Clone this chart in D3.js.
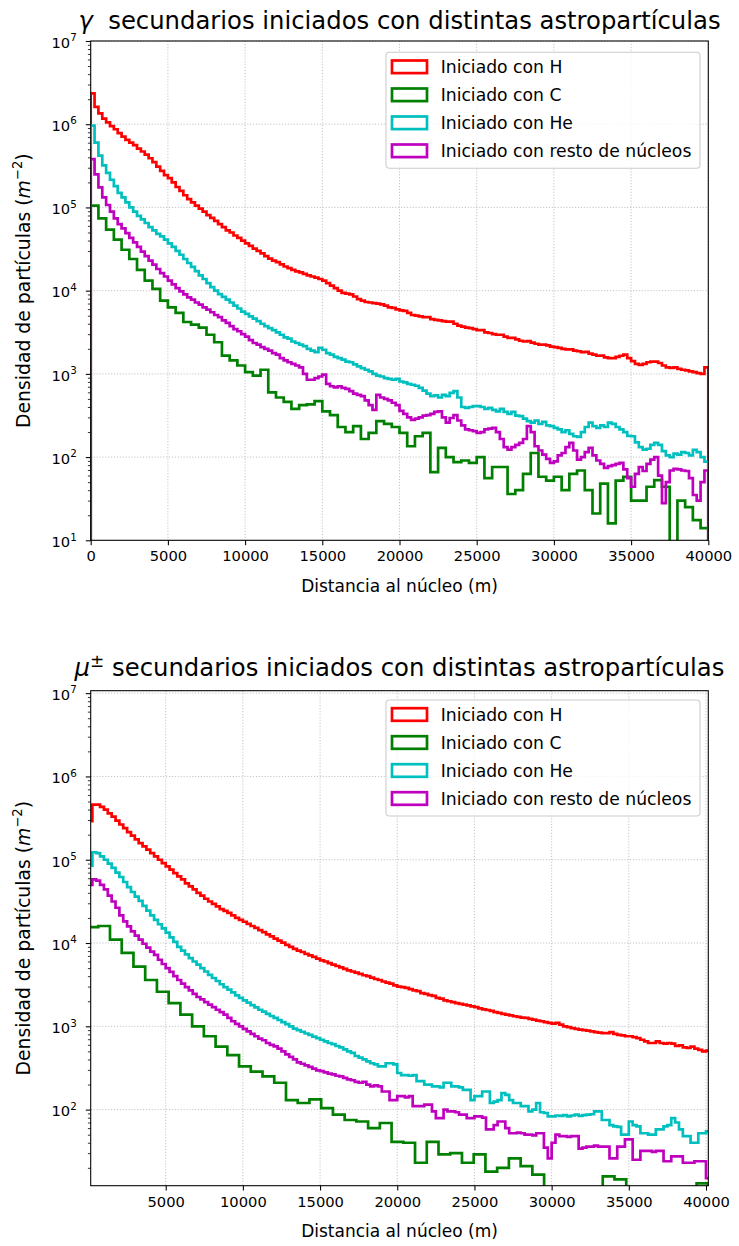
<!DOCTYPE html>
<html>
<head>
<meta charset="utf-8">
<script src="https://cdn.jsdelivr.net/npm/d3@7"></script>
<style>
  html, body { margin: 0; padding: 0; background: #ffffff; }
  svg text { font-family: "DejaVu Sans", sans-serif; fill: #000; }
</style>
</head>
<body>
<svg id="chart" width="739" height="1246"></svg>
<script>
// ---- legend categories and colours ----
const seriesLabels = ["Iniciado con H", "Iniciado con C", "Iniciado con He", "Iniciado con resto de núcleos"];
const seriesColors = ["#ff0000", "#008000", "#00bfbf", "#bf00bf"];

// ---- γ panel: particle density per radial bin (m^-2) ----
const gammaH = [
  2.35e6,1.62e6,1.35e6,1.17e6,1.05e6,9.5e5,8.7e5,7.8e5,7.1e5,6.5e5,
  6.0e5,5.6e5,5.1e5,4.7e5,4.3e5,3.9e5,3.5e5,3.1e5,2.75e5,2.45e5,
  2.25e5,2.0e5,1.76e5,1.58e5,1.4e5,1.26e5,1.15e5,1.05e5,9.7e4,8.9e4,
  8.1e4,7.5e4,6.9e4,6.3e4,5.8e4,5.3e4,5.0e4,4.6e4,4.3e4,4.0e4,
  3.7e4,3.45e4,3.2e4,3.0e4,2.8e4,2.6e4,2.43e4,2.3e4,2.2e4,2.07e4,
  1.95e4,1.86e4,1.78e4,1.7e4,1.66e4,1.59e4,1.53e4,1.48e4,1.43e4,1.38e4,
  1.32e4,1.23e4,1.15e4,1.07e4,1.0e4,9.4e3,9.2e3,9.0e3,8.5e3,7.9e3,
  7.6e3,7.3e3,7.2e3,7.1e3,7.0e3,6.85e3,6.6e3,6.3e3,6.2e3,5.95e3,
  5.8e3,5.7e3,5.4e3,5.1e3,5.0e3,4.9e3,4.8e3,4.8e3,4.55e3,4.45e3,
  4.4e3,4.3e3,4.25e3,4.25e3,4.0e3,3.8e3,3.7e3,3.6e3,3.55e3,3.45e3,
  3.35e3,3.35e3,3.15e3,3.1e3,3.0e3,2.95e3,2.95e3,2.8e3,2.7e3,2.7e3,
  2.6e3,2.5e3,2.45e3,2.48e3,2.37e3,2.3e3,2.25e3,2.25e3,2.2e3,2.12e3,
  2.1e3,2.05e3,2.0e3,1.97e3,1.97e3,1.9e3,1.87e3,1.82e3,1.84e3,1.75e3,
  1.7e3,1.65e3,1.66e3,1.58e3,1.55e3,1.55e3,1.6e3,1.65e3,1.7e3,1.55e3,
  1.42e3,1.32e3,1.28e3,1.32e3,1.38e3,1.4e3,1.4e3,1.35e3,1.26e3,1.2e3,
  1.18e3,1.2e3,1.15e3,1.12e3,1.1e3,1.07e3,1.05e3,1.02e3,1.0e3,1.2e3
];
const gammaC = [
  1.05e5,7.4e4,5.4e4,4.1e4,3.1e4,2.4e4,1.78e4,1.32e4,1.05e4,7.6e3,
  6.3e3,5.4e3,4.2e3,3.9e3,3.6e3,2.95e3,2.4e3,1.66e3,1.45e3,1.26e3,
  1.05e3,9.5e2,1.12e3,6.0e2,5.2e2,4.6e2,3.8e2,4.2e2,4.3e2,4.7e2,
  3.55e2,3.2e2,2.3e2,2.0e2,2.35e2,1.65e2,1.95e2,2.7e2,2.5e2,2.3e2,
  1.95e2,1.35e2,1.78e2,1.95e2,6.6e1,1.29e2,1.0e2,8.7e1,9.1e1,8.5e1,
  1.0e2,5.6e1,7.6e1,7.6e1,3.6e1,4.0e1,6.3e1,1.12e2,5.8e1,5.2e1,
  5.8e1,4.0e1,6.3e1,6.9e1,4.0e1,2.1e1,4.8e1,1.6e1,5.2e1,5.8e1,
  3.0e1,3.0e1,4.4e1,5.3e1,4.4e1,8,3.0e1,2.5e1,1.75e1,1.4e1
];
const gammaHe = [
  9.6e5,6.0e5,4.2e5,3.2e5,2.6e5,2.15e5,1.8e5,1.5e5,1.32e5,1.15e5,
  1.0e5,8.9e4,7.9e4,7.2e4,6.5e4,5.8e4,5.3e4,4.8e4,4.5e4,4.1e4,
  3.7e4,3.35e4,3.0e4,2.7e4,2.4e4,2.15e4,1.93e4,1.72e4,1.53e4,1.38e4,
  1.23e4,1.1e4,1.0e4,9.1e3,8.4e3,7.8e3,7.2e3,6.6e3,6.1e3,5.6e3,
  5.25e3,4.9e3,4.6e3,4.3e3,4.0e3,3.75e3,3.55e3,3.35e3,3.15e3,2.95e3,
  2.75e3,2.65e3,2.45e3,2.35e3,2.25e3,2.15e3,2.0e3,1.9e3,1.82e3,2.05e3,
  1.95e3,1.78e3,1.7e3,1.6e3,1.55e3,1.48e3,1.4e3,1.38e3,1.3e3,1.23e3,
  1.17e3,1.12e3,1.07e3,1.0e3,9.5e2,9.3e2,8.9e2,8.7e2,8.5e2,8.7e2,
  8.1e2,7.9e2,7.6e2,7.4e2,7.2e2,6.8e2,6.3e2,5.8e2,5.4e2,5.5e2,
  5.2e2,5.6e2,5.4e2,5.9e2,6.2e2,5.2e2,4.0e2,3.9e2,4.0e2,4.1e2,
  4.1e2,4.0e2,3.8e2,3.9e2,3.7e2,3.55e2,3.8e2,3.5e2,3.3e2,3.5e2,
  3.15e2,3.1e2,2.9e2,2.7e2,2.6e2,2.75e2,2.5e2,2.65e2,2.4e2,2.35e2,
  2.25e2,2.15e2,2.0e2,2.1e2,1.9e2,1.78e2,1.75e2,2.0e2,2.3e2,2.6e2,
  2.35e2,2.25e2,2.4e2,2.3e2,2.6e2,2.5e2,2.3e2,2.15e2,2.0e2,1.8e2,
  1.78e2,1.5e2,1.32e2,1.23e2,1.26e2,1.4e2,1.48e2,1.4e2,1.18e2,1.05e2,
  1.0e2,1.1e2,1.07e2,1.15e2,1.12e2,1.05e2,1.22e2,1.15e2,1.0e2,8.8e1
];
const gammaRest = [
  3.8e5,2.5e5,1.74e5,1.32e5,1.07e5,8.9e4,7.4e4,6.3e4,5.6e4,4.9e4,
  4.3e4,3.8e4,3.35e4,2.95e4,2.6e4,2.3e4,2.05e4,1.82e4,1.62e4,1.48e4,
  1.32e4,1.19e4,1.07e4,9.8e3,9.0e3,8.3e3,7.8e3,7.2e3,6.8e3,6.3e3,
  5.9e3,5.5e3,5.1e3,4.8e3,4.4e3,4.1e3,3.75e3,3.45e3,3.25e3,3.0e3,
  2.8e3,2.55e3,2.35e3,2.25e3,2.1e3,2.0e3,1.9e3,1.78e3,1.7e3,1.55e3,
  1.45e3,1.38e3,1.32e3,1.26e3,1.2e3,1.0e3,8.5e2,8.5e2,8.9e2,9.3e2,
  9.8e2,7.6e2,7.1e2,6.9e2,7.1e2,6.8e2,6.6e2,6.2e2,5.8e2,5.6e2,
  5.4e2,4.8e2,4.2e2,3.7e2,5.6e2,5.2e2,5.0e2,4.8e2,4.5e2,4.2e2,
  3.6e2,3.3e2,3.0e2,2.8e2,2.9e2,3.0e2,3.15e2,3.2e2,3.3e2,3.5e2,
  3.55e2,3.0e2,2.6e2,2.95e2,3.2e2,2.75e2,2.4e2,2.15e2,2.1e2,2.05e2,
  1.95e2,2.0e2,2.15e2,2.2e2,2.25e2,2.0e2,1.65e2,1.32e2,1.23e2,1.32e2,
  1.4e2,1.48e2,1.65e2,2.35e2,2.0e2,1.35e2,1.2e2,1.07e2,9.5e1,8.5e1,
  8.9e1,1.05e2,1.12e2,1.32e2,1.48e2,1.2e2,9.3e1,1.0e2,1.15e2,1.29e2,
  1.05e2,9.1e1,8.3e1,7.4e1,7.8e1,8.0e1,8.3e1,8.5e1,7.1e1,5.6e1,
  4.4e1,6.3e1,7.6e1,6.8e1,8.3e1,9.3e1,1.0e2,6.0e1,2.8e1,5.0e1,
  6.9e1,7.2e1,7.1e1,6.9e1,6.8e1,5.6e1,3.5e1,3.0e1,5.0e1,6.9e1
];
// first bin edge and bin width (m) for H, C, He, rest
const gammaBinStart = [0, 0, 0, 0];
const gammaBinWidth = [250, 500, 250, 250];

// ---- μ± panel ----
const muonH = [
  2.9e5,4.6e5,4.6e5,4.3e5,4.0e5,3.6e5,3.3e5,2.95e5,2.65e5,2.4e5,
  2.15e5,1.95e5,1.76e5,1.58e5,1.45e5,1.32e5,1.2e5,1.1e5,1.0e5,9.1e4,
  8.3e4,7.6e4,6.9e4,6.3e4,5.8e4,5.2e4,4.8e4,4.4e4,4.0e4,3.7e4,
  3.4e4,3.15e4,2.95e4,2.75e4,2.55e4,2.43e4,2.3e4,2.15e4,2.0e4,1.9e4,
  1.8e4,1.7e4,1.6e4,1.52e4,1.43e4,1.35e4,1.27e4,1.2e4,1.13e4,1.07e4,
  1.01e4,9.5e3,9.0e3,8.5e3,8.1e3,7.8e3,7.4e3,7.1e3,6.8e3,6.5e3,
  6.2e3,6.0e3,5.75e3,5.5e3,5.3e3,5.1e3,4.9e3,4.7e3,4.55e3,4.4e3,
  4.25e3,4.1e3,4.0e3,3.85e3,3.7e3,3.6e3,3.45e3,3.35e3,3.25e3,3.1e3,
  3.0e3,2.95e3,2.9e3,2.8e3,2.7e3,2.65e3,2.5e3,2.45e3,2.37e3,2.32e3,
  2.2e3,2.15e3,2.05e3,2.0e3,1.95e3,1.9e3,1.86e3,1.82e3,1.78e3,1.74e3,
  1.7e3,1.64e3,1.6e3,1.57e3,1.53e3,1.48e3,1.45e3,1.41e3,1.38e3,1.35e3,
  1.32e3,1.3e3,1.27e3,1.26e3,1.23e3,1.2e3,1.17e3,1.15e3,1.12e3,1.1e3,
  1.08e3,1.1e3,1.05e3,1.0e3,9.8e2,9.5e2,9.3e2,9.1e2,9.0e2,8.9e2,
  8.7e2,8.5e2,8.4e2,8.3e2,8.3e2,8.5e2,8.1e2,7.9e2,7.8e2,7.6e2,
  7.6e2,7.4e2,7.2e2,6.9e2,6.6e2,6.3e2,6.3e2,6.6e2,6.3e2,6.2e2,
  6.3e2,6.2e2,5.8e2,5.9e2,5.6e2,5.5e2,5.7e2,5.4e2,5.2e2,5.0e2,5.1e2
];
const muonC = [
  1.55e4,1.6e4,1.1e4,7.6e3,5.2e3,3.6e3,2.6e3,1.9e3,1.38e3,1.0e3,
  7.6e2,5.7e2,4.5e2,3.3e2,2.85e2,2.5e2,2.1e2,1.3e2,1.2e2,1.33e2,
  1.04e2,8.7e1,7.5e1,7.2e1,6.0e1,6.9e1,4.1e1,4.0e1,2.3e1,4.1e1,
  2.9e1,3.0e1,2.3e1,2.9e1,1.8e1,2.0e1,2.6e1,2.1e1,1.66e1,9,
  10,8,9,10,1.58e1,1.45e1,9,10,8,9,
  10,9,1.3e1
];
const muonHe = [
  8.5e4,1.23e5,1.2e5,1.1e5,1.0e5,9.0e4,8.0e4,7.0e4,6.2e4,5.4e4,
  4.7e4,4.1e4,3.6e4,3.2e4,2.8e4,2.45e4,2.15e4,1.9e4,1.68e4,1.5e4,
  1.33e4,1.17e4,1.03e4,9.0e3,8.1e3,7.3e3,6.6e3,6.0e3,5.5e3,5.0e3,
  4.55e3,4.15e3,3.8e3,3.5e3,3.2e3,2.95e3,2.75e3,2.55e3,2.35e3,2.2e3,
  2.05e3,1.92e3,1.8e3,1.69e3,1.58e3,1.5e3,1.41e3,1.33e3,1.26e3,1.19e3,
  1.12e3,1.06e3,1.0e3,9.4e2,9.0e2,8.6e2,8.2e2,7.9e2,7.5e2,7.2e2,
  6.9e2,6.6e2,6.3e2,6.1e2,5.8e2,5.6e2,5.3e2,5.0e2,4.8e2,4.4e2,
  4.2e2,4.0e2,3.8e2,3.6e2,3.5e2,3.3e2,3.3e2,3.6e2,3.6e2,3.5e2,
  2.75e2,2.6e2,2.6e2,2.55e2,2.6e2,2.2e2,2.2e2,2.0e2,2.0e2,1.9e2,
  1.9e2,1.85e2,2.1e2,2.1e2,1.9e2,1.9e2,1.85e2,1.73e2,1.73e2,1.3e2,
  1.45e2,1.45e2,1.65e2,1.65e2,1.2e2,1.25e2,1.3e2,1.58e2,1.5e2,1.3e2,
  1.2e2,1.2e2,1.1e2,1.1e2,9.5e1,1.0e2,1.2e2,9.3e1,9.1e1,8.3e1,
  8.3e1,8.5e1,8.4e1,8.6e1,8.3e1,8.5e1,8.7e1,8.4e1,8.6e1,8.7e1,
  8.8e1,9.5e1,9.5e1,7.5e1,7.5e1,6.5e1,6.3e1,6.2e1,5.0e1,5.0e1,
  7.2e1,6.5e1,6.3e1,5.2e1,5.2e1,5.0e1,5.0e1,5.8e1,5.8e1,6.3e1,
  6.5e1,7.9e1,7.0e1,5.8e1,4.8e1,4.8e1,4.0e1,4.0e1,5.2e1,5.2e1,5.5e1
];
const muonRest = [
  5.0e4,5.8e4,5.6e4,5.0e4,4.4e4,3.7e4,3.15e4,2.65e4,2.15e4,1.82e4,
  1.58e4,1.38e4,1.23e4,1.1e4,9.8e3,8.8e3,7.9e3,7.2e3,6.3e3,5.6e3,
  5.0e3,4.5e3,4.0e3,3.6e3,3.25e3,2.95e3,2.7e3,2.45e3,2.25e3,2.1e3,
  1.95e3,1.82e3,1.7e3,1.58e3,1.48e3,1.38e3,1.26e3,1.15e3,1.07e3,1.0e3,
  9.3e2,8.7e2,8.1e2,7.6e2,7.1e2,6.8e2,6.3e2,6.0e2,5.75e2,5.4e2,
  5.0e2,4.6e2,4.3e2,4.0e2,3.7e2,3.55e2,3.4e2,3.25e2,3.1e2,2.95e2,
  2.9e2,2.8e2,2.7e2,2.65e2,2.55e2,2.5e2,2.4e2,2.3e2,2.25e2,2.15e2,
  2.1e2,2.15e2,2.0e2,1.9e2,1.95e2,1.9e2,1.65e2,1.65e2,1.3e2,1.3e2,
  1.45e2,1.45e2,1.4e2,1.45e2,1.1e2,1.1e2,1.1e2,1.15e2,1.15e2,9.5e1,
  7.9e1,7.9e1,1.0e2,9.5e1,9.5e1,9.3e1,8.7e1,8.7e1,7.9e1,7.9e1,
  8.3e1,8.3e1,8.0e1,5.8e1,5.8e1,6.5e1,7.2e1,7.2e1,6.0e1,5.2e1,
  5.2e1,5.3e1,5.2e1,5.0e1,5.0e1,4.9e1,5.2e1,5.2e1,3.5e1,2.6e1,
  4.0e1,5.0e1,4.8e1,4.8e1,4.7e1,4.8e1,4.8e1,3.4e1,3.5e1,3.6e1,
  3.6e1,3.7e1,3.6e1,3.6e1,3.6e1,2.6e1,2.6e1,3.6e1,3.6e1,4.4e1,
  4.4e1,2.5e1,2.5e1,3.2e1,3.2e1,3.2e1,3.1e1,3.2e1,3.2e1,2.4e1,
  2.4e1,2.75e1,2.75e1,2.75e1,2.3e1,2.3e1,2.3e1,2.4e1,2.4e1,2.4e1,1.5e1
];
const muonBinStart = [0, -128, 0, 0];
const muonBinWidth = [250, 760, 250, 250];

// ---- axis ranges and tick values ----
const gammaXRange = [0, 40000];
const gammaYRange = [10, 1e7];
const muonXRange = [142, 40149];
const muonYRange = [12.2, 1.07e7];
const gammaXTicks = [0, 5000, 10000, 15000, 20000, 25000, 30000, 35000, 40000];
const muonXTicks = [5000, 10000, 15000, 20000, 25000, 30000, 35000, 40000];
const gammaYTicks = [1e1, 1e2, 1e3, 1e4, 1e5, 1e6, 1e7];
const muonYTicks = [1e2, 1e3, 1e4, 1e5, 1e6, 1e7];

const svg = d3.select("#chart");

const panels = [
  {
    id: "gamma",
    box: { left: 90.7, right: 708.3, top: 41, bottom: 540.3 },
    xRange: gammaXRange, yRange: gammaYRange,
    xTicks: gammaXTicks, yTicks: gammaYTicks,
    series: [gammaH, gammaC, gammaHe, gammaRest],
    binStart: gammaBinStart, binWidth: gammaBinWidth,
    symbol: "γ", symbolSup: null, gap: "\u00a0\u00a0",
    titleY: 29, legendTop: 52.3
  },
  {
    id: "muon",
    box: { left: 90.7, right: 708.3, top: 690.7, bottom: 1185.7 },
    xRange: muonXRange, yRange: muonYRange,
    xTicks: muonXTicks, yTicks: muonYTicks,
    series: [muonH, muonC, muonHe, muonRest],
    binStart: muonBinStart, binWidth: muonBinWidth,
    symbol: "μ", symbolSup: "±", gap: "\u00a0",
    titleY: 676, legendTop: 700
  }
];

const TICK_FONT = 14.7, XLABEL_FONT = 17, YLABEL_FONT = 18.8, LEGEND_FONT = 17.2, TITLE_FONT = 24.3;
const LINE_W = 2.7;

panels.forEach(p => {
  const b = p.box;
  const g = svg.append("g").attr("class", "panel-" + p.id);
  const x = d3.scaleLinear().domain(p.xRange).range([b.left, b.right]);
  const y = d3.scaleLog().domain(p.yRange).range([b.bottom, b.top]);

  // clip region for the histogram outlines
  const clipId = "clip-" + p.id;
  g.append("clipPath").attr("id", clipId)
    .append("rect").attr("x", b.left).attr("y", b.top)
    .attr("width", b.right - b.left).attr("height", b.bottom - b.top);

  // dotted grid at major ticks
  const grid = g.append("g").attr("class", "grid")
    .attr("stroke", "#b0b0b0").attr("stroke-width", 0.8)
    .attr("stroke-dasharray", "1.1,1.8");
  grid.selectAll("line.gx").data(p.xTicks).join("line").attr("class", "gx")
    .attr("x1", d => x(d)).attr("x2", d => x(d)).attr("y1", b.top).attr("y2", b.bottom);
  grid.selectAll("line.gy").data(p.yTicks).join("line").attr("class", "gy")
    .attr("x1", b.left).attr("x2", b.right).attr("y1", d => y(d)).attr("y2", d => y(d));

  // step histograms: outline runs up from below the axis, across every bin, and back down
  const floor = p.yRange[0] / 100;
  const line = d3.line().x(d => x(d[0])).y(d => y(d[1]));
  const hist = g.append("g").attr("clip-path", `url(#${clipId})`);
  p.series.forEach((vals, s) => {
    const start = p.binStart[s], w = p.binWidth[s];
    const pts = [[start, floor]];
    vals.forEach((v, i) => {
      pts.push([start + i * w, v]);
      pts.push([start + (i + 1) * w, v]);
    });
    pts.push([start + vals.length * w, floor]);
    hist.append("path").attr("d", line(pts))
      .attr("fill", "none").attr("stroke", seriesColors[s])
      .attr("stroke-width", LINE_W).attr("stroke-linejoin", "miter");
  });

  // frame
  g.append("rect").attr("x", b.left).attr("y", b.top)
    .attr("width", b.right - b.left).attr("height", b.bottom - b.top)
    .attr("fill", "none").attr("stroke", "#000").attr("stroke-width", 1.07);

  // x axis
  const xAxis = g.append("g").attr("transform", `translate(0,${b.bottom})`)
    .call(d3.axisBottom(x).tickValues(p.xTicks).tickSize(4.9).tickPadding(5.7)
      .tickFormat(d3.format("d")));
  xAxis.select(".domain").remove();
  xAxis.selectAll(".tick line").attr("stroke", "#000").attr("stroke-width", 1.07);
  xAxis.selectAll(".tick text").attr("font-size", TICK_FONT)
    .attr("font-family", "DejaVu Sans");

  // y axis: minor ticks
  const [y0, y1] = p.yRange;
  const minor = [];
  for (let e = Math.floor(Math.log10(y0)); e <= Math.ceil(Math.log10(y1)); e++) {
    for (let m = 2; m <= 9; m++) {
      const v = m * Math.pow(10, e);
      if (v >= y0 && v <= y1) minor.push(v);
    }
  }
  const yMinor = g.append("g").attr("transform", `translate(${b.left},0)`)
    .call(d3.axisLeft(y).tickValues(minor).tickSize(2.8).tickFormat(""));
  yMinor.select(".domain").remove();
  yMinor.selectAll(".tick line").attr("stroke", "#000").attr("stroke-width", 0.8);

  // y axis: major ticks with 10^n labels
  const yMajor = g.append("g").attr("transform", `translate(${b.left},0)`)
    .call(d3.axisLeft(y).tickValues(p.yTicks).tickSize(4.9).tickFormat(""));
  yMajor.select(".domain").remove();
  yMajor.selectAll(".tick line").attr("stroke", "#000").attr("stroke-width", 1.07);
  yMajor.selectAll(".tick").each(function (d) {
    const t = d3.select(this).append("text")
      .attr("x", -14).attr("y", 6.3).attr("text-anchor", "end")
      .attr("font-size", TICK_FONT).attr("fill", "#000");
    t.append("tspan").text("10");
    t.append("tspan").attr("font-size", TICK_FONT * 0.7).attr("dy", -6.6)
      .text(String(Math.round(Math.log10(d))));
  });

  // axis titles
  g.append("text").attr("x", (b.left + b.right) / 2).attr("y", b.bottom + 51.5)
    .attr("text-anchor", "middle").attr("font-size", XLABEL_FONT)
    .text("Distancia al núcleo (m)");
  const yl = g.append("text")
    .attr("transform", `translate(29.5,${(b.top + b.bottom) / 2}) rotate(-90)`)
    .attr("text-anchor", "middle").attr("font-size", YLABEL_FONT);
  yl.append("tspan").text("Densidad de partículas (");
  yl.append("tspan").attr("font-style", "italic").text("m");
  yl.append("tspan").attr("font-size", YLABEL_FONT * 0.7).attr("dy", -7.5).text("−2");
  yl.append("tspan").attr("dy", 7.5).text(")");

  // panel title
  const tt = g.append("text").attr("x", (b.left + b.right) / 2).attr("y", p.titleY)
    .attr("text-anchor", "middle").attr("font-size", TITLE_FONT);
  tt.append("tspan").attr("font-style", "italic").text(p.symbol);
  if (p.symbolSup) {
    tt.append("tspan").attr("font-size", TITLE_FONT * 0.7).attr("dy", -9.5).text(p.symbolSup);
    tt.append("tspan").attr("dy", 9.5).text(p.gap + "secundarios iniciados con distintas astropartículas");
  } else {
    tt.append("tspan").text(p.gap + "secundarios iniciados con distintas astropartículas");
  }

  // legend
  const lg = g.append("g");
  lg.append("rect").attr("x", 386).attr("y", p.legendTop)
    .attr("width", 314).attr("height", 116).attr("rx", 3.5)
    .attr("fill", "#ffffff").attr("fill-opacity", 0.8)
    .attr("stroke", "#cccccc").attr("stroke-width", 1.07);
  seriesLabels.forEach((lab, i) => {
    const cy = p.legendTop + 14.5 + i * 28;
    lg.append("rect").attr("x", 392).attr("y", cy - 6.3)
      .attr("width", 35).attr("height", 12.6)
      .attr("fill", "none").attr("stroke", seriesColors[i]).attr("stroke-width", LINE_W);
    lg.append("text").attr("x", 440.7).attr("y", cy + 6.2)
      .attr("font-size", LEGEND_FONT).text(lab);
  });
});
</script>
</body>
</html>
